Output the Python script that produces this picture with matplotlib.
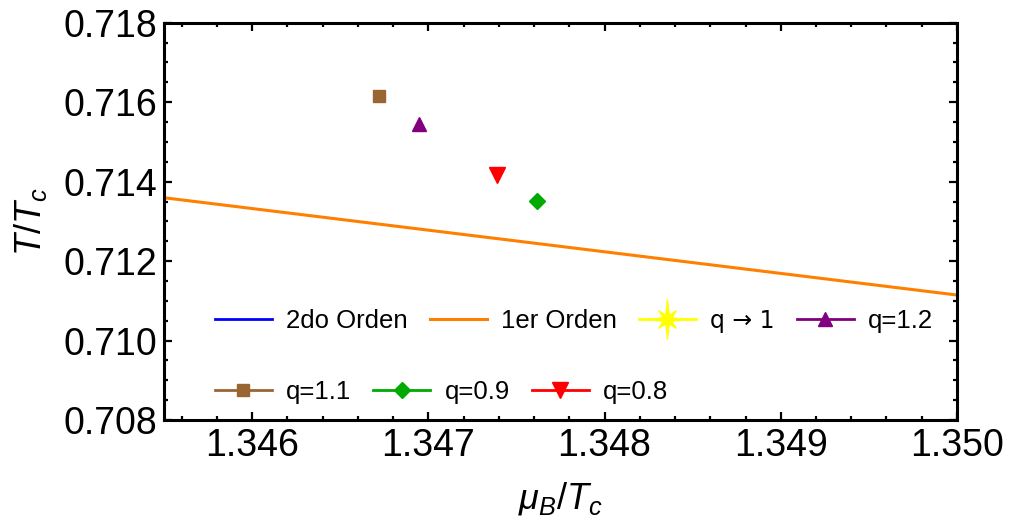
import numpy as np
import matplotlib
matplotlib.use("Agg")
import matplotlib.pyplot as plt
from matplotlib.path import Path
from matplotlib.ticker import FormatStrFormatter

plt.rcParams.update({
    "font.family": ["Liberation Sans", "DejaVu Sans"],
    "mathtext.fontset": "custom",
    "mathtext.rm": "Liberation Sans",
    "mathtext.it": "Liberation Sans:italic",
    "mathtext.bf": "Liberation Sans:bold",
})

# first-order transition line (visible segment)
orden1_x = [1.3455, 1.3500]
orden1_y = [0.713595, 0.711146]

# critical end points for each q
q12_x, q12_y = [1.346946], [0.715445]
q11_x, q11_y = [1.346721], [0.716163]
q09_x, q09_y = [1.347614], [0.713512]
q08_x, q08_y = [1.347391], [0.714167]

# 8-pointed star marker (long horizontal/vertical arms, shorter diagonals)
ang = np.arange(16) * np.pi / 8
rad = np.array([1.0 if k % 4 == 0 else (0.62 if k % 2 == 0 else 0.24) for k in range(16)])
star_verts = np.column_stack([np.sin(ang) * rad, np.cos(ang) * rad])
star = Path(np.vstack([star_verts, star_verts[:1]]), closed=True)

fig = plt.figure(figsize=(10.10, 5.27), dpi=100)
ax = fig.add_axes([0.1624, 0.2030, 0.7851, 0.7539])

h_2do, = ax.plot([], [], color="#0000ff", lw=2, label="2do Orden")
h_1er, = ax.plot(orden1_x, orden1_y, color="#ff8000", lw=2.2, label="1er Orden")
h_q1, = ax.plot([], [], color="#ffff00", lw=2, marker=star, ms=29, mec="#ffff00", mew=0.8,
                label="q \u2192 1")
h_q12, = ax.plot(q12_x, q12_y, color="#800080", lw=2, marker="^", ms=10, label="q=1.2")
h_q11, = ax.plot(q11_x, q11_y, color="#996633", lw=2, marker="s", ms=8, label="q=1.1")
h_q09, = ax.plot(q09_x, q09_y, color="#00aa00", lw=2, marker="D", ms=8.5, label="q=0.9")
h_q08, = ax.plot(q08_x, q08_y, color="#ff0000", lw=2, marker="v", ms=11, label="q=0.8")

ax.set_xlim(1.3455, 1.3500)
ax.set_ylim(0.708, 0.718)
ax.set_xticks(np.arange(1.346, 1.35001, 0.001))
ax.set_xticks(np.arange(1.3456, 1.35001, 0.0002), minor=True)
ax.set_yticks(np.arange(0.708, 0.71801, 0.002))
ax.set_yticks(np.arange(0.708, 0.71801, 0.0005), minor=True)
ax.xaxis.set_major_formatter(FormatStrFormatter("%.3f"))
ax.yaxis.set_major_formatter(FormatStrFormatter("%.3f"))

for s in ax.spines.values():
    s.set_linewidth(2.2)
ax.tick_params(which="both", direction="in", top=True, right=True, labelsize=27, width=1.6)
ax.tick_params(which="major", length=6)
ax.tick_params(which="minor", length=3)
ax.tick_params(axis="x", pad=6)
ax.tick_params(axis="y", pad=5)

ax.set_xlabel(r"$\mu_B/T_c$", fontsize=26, labelpad=11)
ax.set_ylabel(r"$T/T_c$", fontsize=26, labelpad=10)

leg_kw = dict(frameon=False, fontsize=18.5, handlelength=2.22, handletextpad=0.55,
              columnspacing=0.86, borderpad=0, borderaxespad=0, numpoints=1,
              loc="center left")
leg1 = ax.legend(handles=[h_2do, h_1er, h_q1, h_q12], ncol=4,
                 bbox_to_anchor=(0.064, 0.25), **leg_kw)
# arrow glyph: DejaVu's arrow is closer in weight to the original
leg1.get_texts()[2].set_fontfamily(["DejaVu Sans"])
leg1.get_texts()[2].set_fontsize(17)
ax.add_artist(leg1)
ax.legend(handles=[h_q11, h_q09, h_q08], ncol=3,
          bbox_to_anchor=(0.064, 0.071), **leg_kw)

fig.savefig("out.png", dpi=100)
